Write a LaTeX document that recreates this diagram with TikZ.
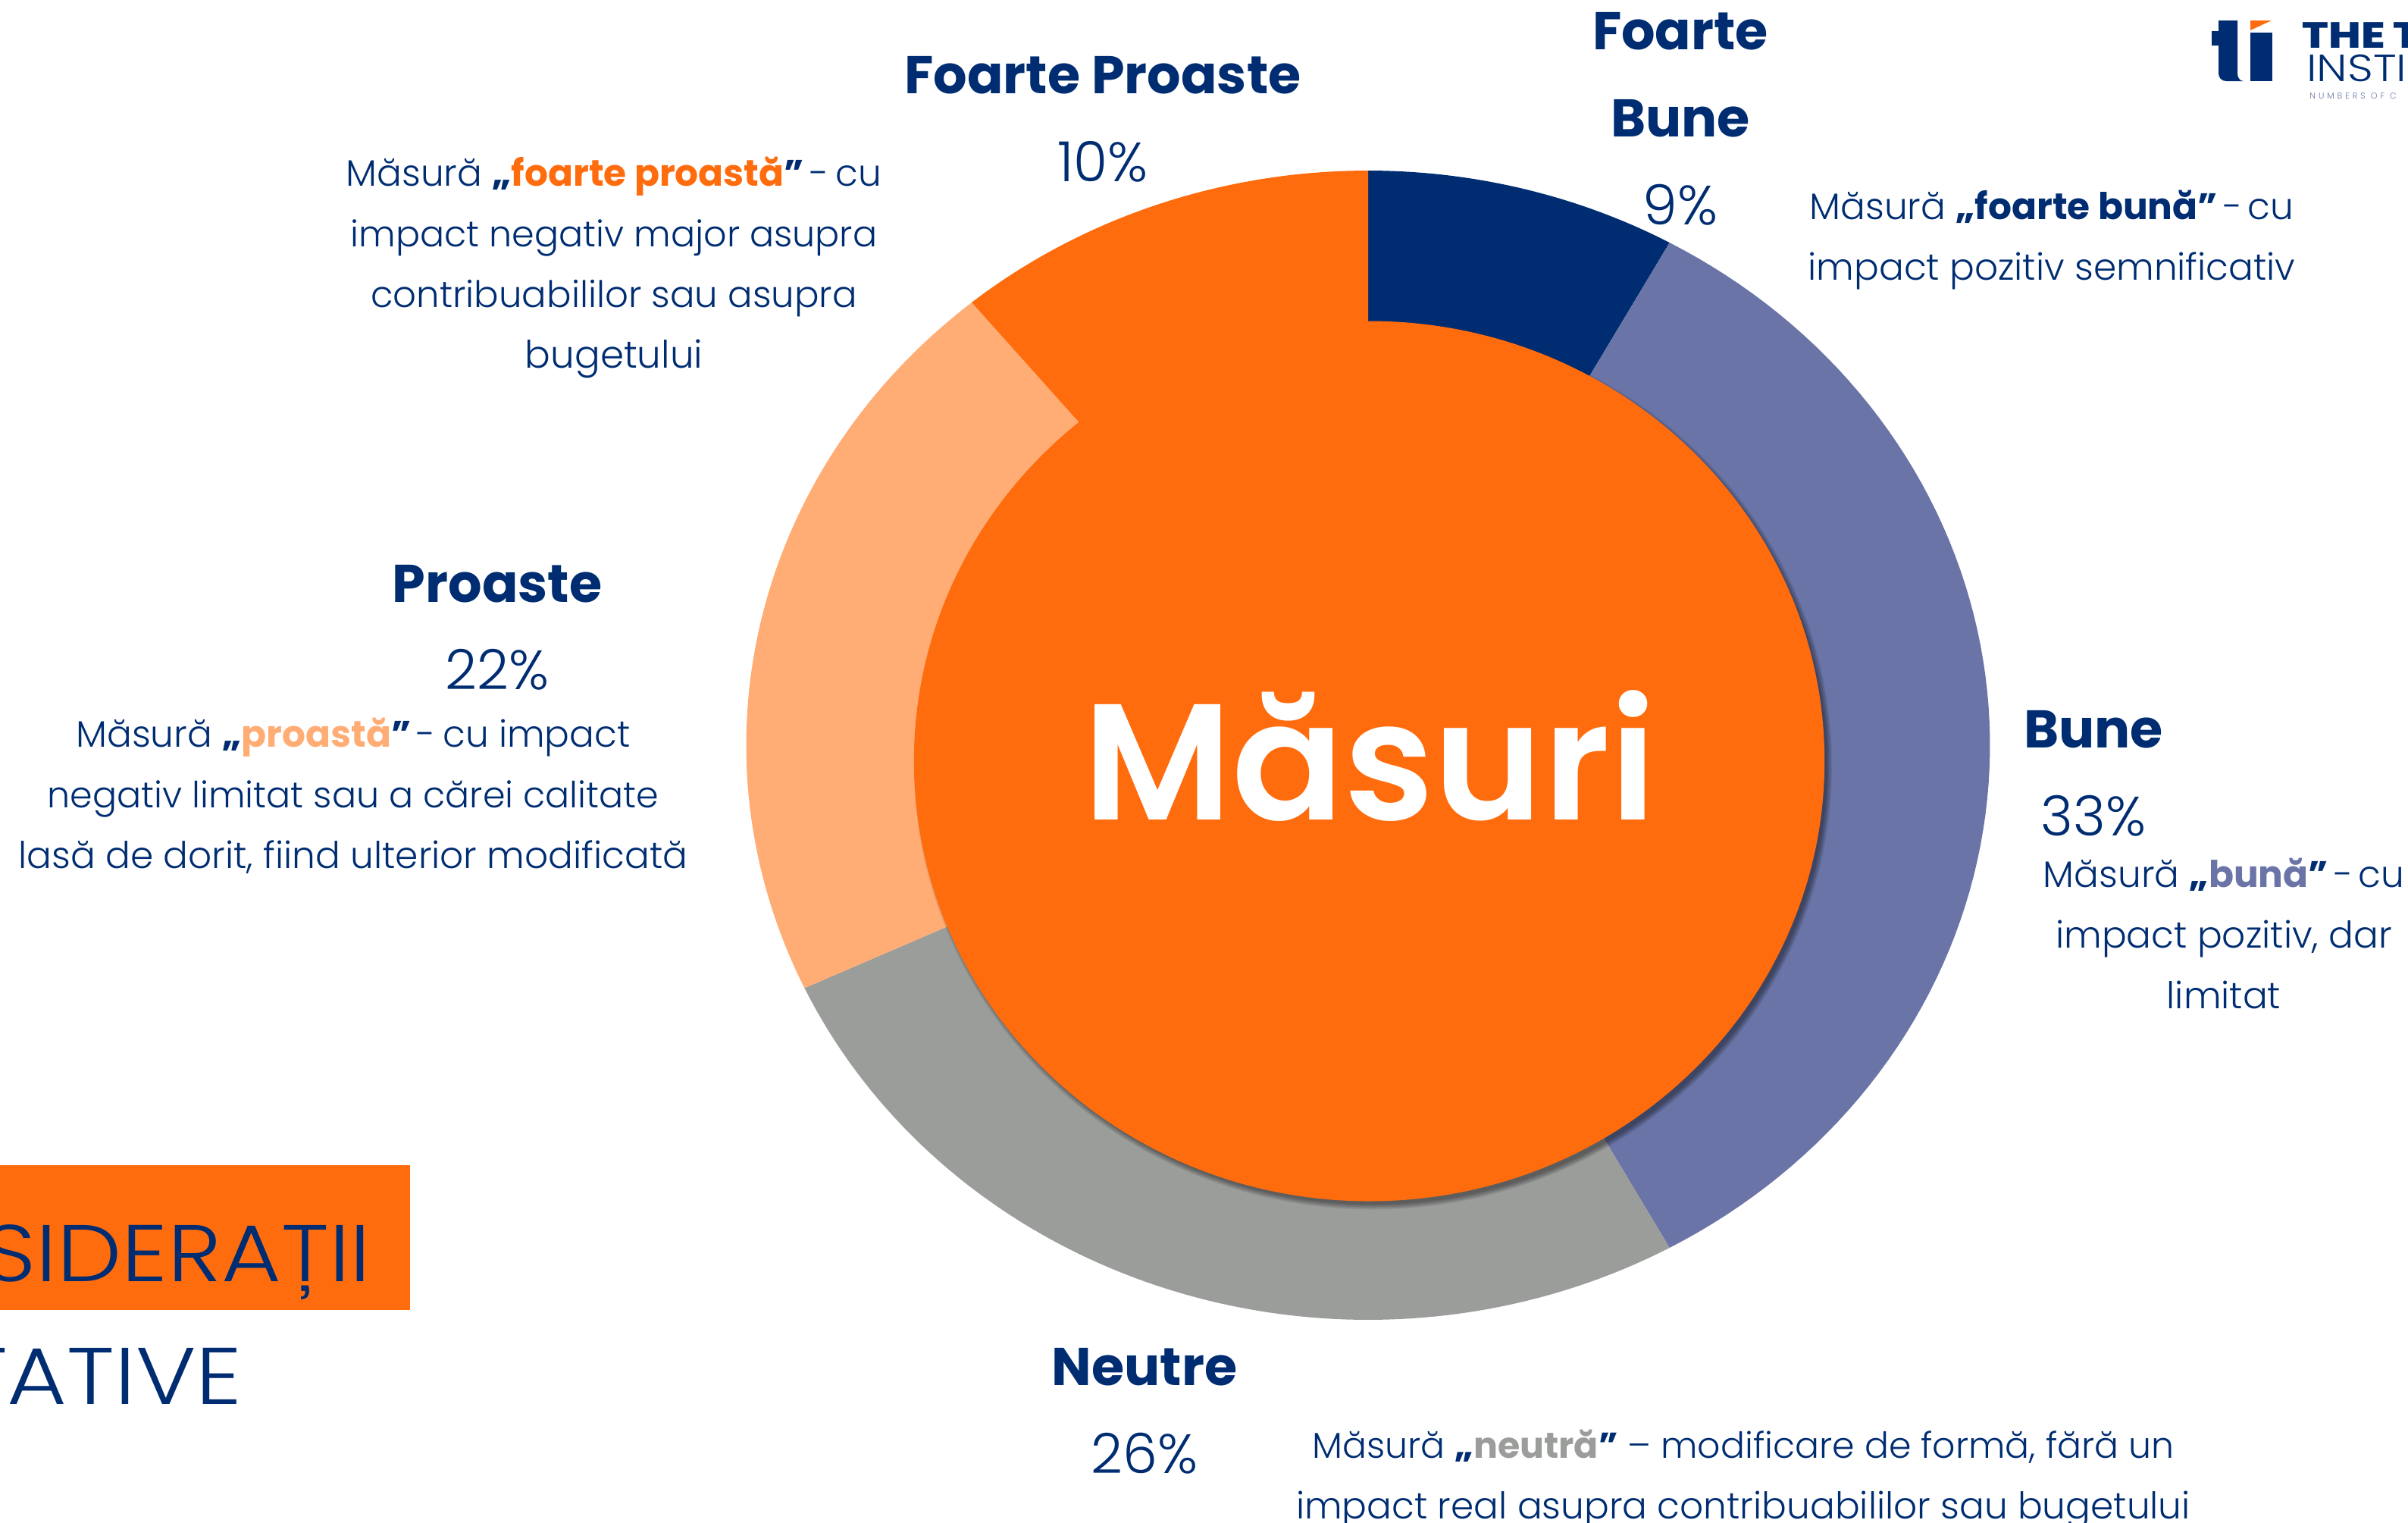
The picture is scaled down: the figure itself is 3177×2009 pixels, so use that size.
\documentclass[tikz,border=0pt]{standalone}
\usepackage{fontspec}
\setmainfont{Poppins}
\newfontfamily\lite{Poppins Light}
\newfontfamily\semi{Poppins SemiBold}
\newfontfamily\litewide[FakeStretch=1.14]{Poppins Light}
\newfontfamily\litelogo[FakeStretch=1.18]{Poppins Light}
\newfontfamily\boldlogo[FakeStretch=1.2]{Poppins ExtraBold}
\definecolor{cOrange}{HTML}{FF6C0E}
\definecolor{cNavy}{HTML}{002D72}
\definecolor{cSlate}{HTML}{6A74A6}
\definecolor{cGray}{HTML}{9B9D9B}
\definecolor{cPeach}{HTML}{FFAD74}
\tikzset{
  head/.style={inner sep=0pt,text=cNavy,font=\fontsize{35}{40}\selectfont\bfseries},
  pct/.style={inner sep=0pt,text=cNavy,font=\lite\fontsize{36.5}{40}\selectfont},
  desc/.style={inner sep=0pt,text=cNavy,align=center,font=\lite\fontsize{24.3}{40}\selectfont},
  big/.style={inner sep=0pt,text=cNavy,anchor=base east,font=\litewide\fontsize{53}{60}\selectfont},
}
\newcommand{\slicefill}[3]{\fill[#1] (1805,983) -- plot[domain=#2:#3,samples=80] ({1805+820.5*cos(\x)},{983+758*sin(\x)}) -- cycle;}
\newcommand{\bfq}[2]{{\fontspec{Poppins}\bfseries\textcolor{cNavy}{„}\textcolor{#1}{#2}\textcolor{cNavy}{”}}}
\newcommand{\dsh}{\kern-3pt\ -\ \kern-3pt}
\newcommand{\dshw}{\kern-3pt\ -\ \kern-2pt}
\newcommand{\szl}[2]{{\fontsize{#1}{40}\selectfont #2}}
\begin{document}
\begin{tikzpicture}[x=0.5pt,y=-0.5pt]
\useasboundingbox (0,0) rectangle (3177,2009);
\slicefill{cNavy}{-90}{-61}
\slicefill{cSlate}{-61}{61}
\slicefill{cGray}{61}{155}
\slicefill{cPeach}{155}{230.4}
\slicefill{cOrange}{230.4}{270}
\foreach \r in {5,4,3,2,1,0,-1,-2}{
  \fill[black,opacity=0.06] (1811.5,1010) ellipse [x radius=600.7+\r,y radius=580.5+\r];
}
\fill[cOrange] (1806.5,1004) ellipse [x radius=600.7,y radius=580.5];
\node[inner sep=0pt,text=white,font=\semi\fontsize{109}{120}\selectfont] (center) at (1807,997) {Măsuri};

\node[head] (h1) at (1455,99) {Foarte Proaste};
\node[pct] (p1) at (1455,213) {10\%};
\node[head] (h2a) at (2217,41) {Foarte};
\node[head] (h2b) at (2217,156) {Bune};
\node[pct] (p2) at (2217,270) {9\%};
\node[head] (h3) at (656,770) {Proaste};
\node[pct] (p3) at (656,883) {22\%};
\node[head] (h4) at (2762,962) {Bune};
\node[pct] (p4) at (2762,1076) {33\%};
\node[head] (h5) at (1510,1803) {Neutre};
\node[pct] (p5) at (1510,1917) {26\%};

\node[desc] (d1) at (810,353) {Măsură \bfq{cOrange}{foarte proastă}\dshw cu\\\szl{23.8}{impact negativ major asupra}\\\szl{24.1}{contribuabililor sau asupra}\\\szl{25}{bugetului}};
\node[desc] (d2) at (2707,317) {Măsură \bfq{cNavy}{foarte bună}\dsh cu\\impact pozitiv semnificativ};
\node[desc] (d3) at (466,1050) {Măsură \bfq{cPeach}{proastă}\dshw cu impact\\\szl{23.8}{negativ limitat sau a cărei calitate}\\lasă de dorit, fiind ulterior modificată};
\node[desc] (d4) at (2934,1231) {Măsură \bfq{cSlate}{bună}\dsh cu\\impact pozitiv, dar\\limitat};
\node[desc] (d5) at (2300,1951) {\szl{23.7}{Măsură \bfq{cGray}{neutră} – modificare de formă, fără un}\\impact real asupra contribuabililor sau bugetului};

\fill[cOrange] (0,1537) rectangle (541,1728);
\node[big] (t1) at (490,1690) {SIDERAȚII};
\node[big] (t2) at (320,1852) {TATIVE};

% logo
\fill[cNavy] (2927,27) -- (2952,27) -- (2952,97) .. controls (2952,102) and (2955,107) .. (2960,107) -- (2937,107) .. controls (2931,107) and (2927,102) .. (2927,97) -- (2927,60) -- (2918,60) -- (2918,41) -- (2927,41) -- cycle;
\fill[cNavy] (2969,43) rectangle (2998,107);
\fill[cOrange] (2969,27) -- (2997,27) -- (2969,40) -- cycle;
\node[inner sep=0pt,anchor=base west,text=cNavy,font=\boldlogo\fontsize{24}{24}\selectfont] (l1) at (3037,63) {THE T};
\node[inner sep=0pt,anchor=base west,text=cNavy,font=\litelogo\fontsize{25}{25}\selectfont] (l2) at (3043,107) {INSTI};
\node[inner sep=0pt,anchor=base west,text=cSlate,font=\lite\fontsize{5.6}{6}\selectfont\addfontfeature{LetterSpace=35}] (l3) at (3047,130) {NUMBERS OF C};
\end{tikzpicture}
\end{document}
